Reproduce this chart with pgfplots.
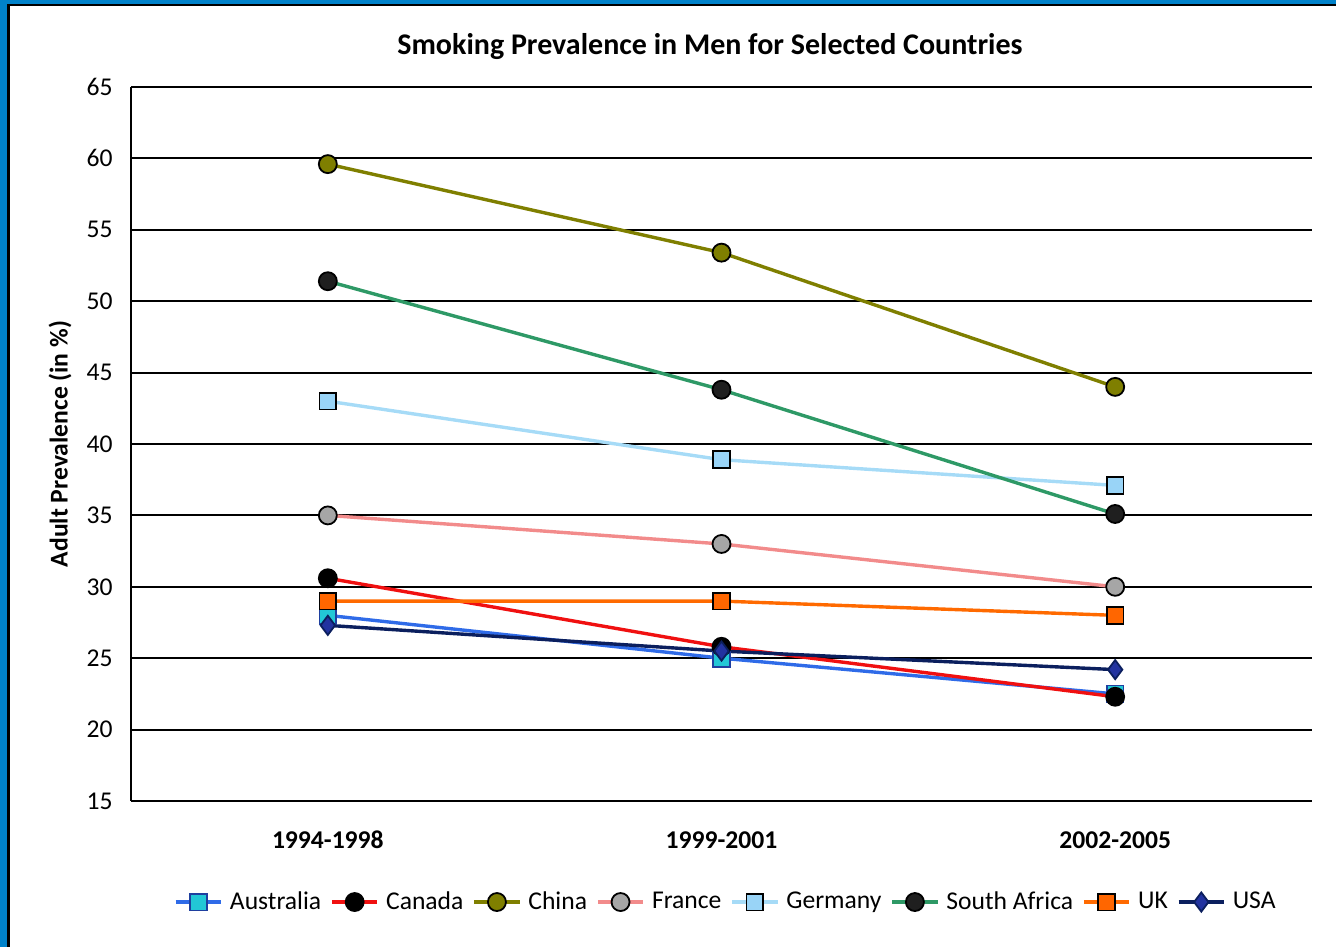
\documentclass[border=0pt]{standalone}
\usepackage{pgfplots}
\pgfplotsset{compat=1.18}
\usepackage{fontspec}
\setmainfont{Carlito}
\definecolor{frameblue}{HTML}{0082CA}
\definecolor{ausline}{HTML}{2F6BE8}
\definecolor{auscyan}{HTML}{22C7D6}
\definecolor{ausedge}{HTML}{1F3F9F}
\definecolor{canline}{HTML}{F01010}
\definecolor{china}{HTML}{7F7F00}
\definecolor{franceline}{HTML}{F28B8B}
\definecolor{francemark}{HTML}{A6A6A6}
\definecolor{gerline}{HTML}{A6DBF7}
\definecolor{germark}{HTML}{99D4F7}
\definecolor{saline}{HTML}{2E9966}
\definecolor{samark}{HTML}{1F1F1F}
\definecolor{ukline}{HTML}{FF6A00}
\definecolor{ukmark}{HTML}{FF6600}
\definecolor{usaline}{HTML}{0B1F5E}
\definecolor{usamark}{HTML}{2233A0}
\begin{document}
\begin{tikzpicture}
\path[use as bounding box] (0pt,0pt) rectangle (668pt,473.5pt);
\begin{axis}[
  at={(65.5pt,73pt)}, anchor=south west,
  scale only axis, width=590.5pt, height=357pt,
  xmin=-0.5, xmax=2.5, ymin=15, ymax=65,
  ytick={15,20,...,65},
  xtick={0,1,2},
  xticklabels={1994-1998,1999-2001,2002-2005},
  axis x line=bottom, axis y line=left,
  axis line style={-, black, line width=1pt},
  major tick length=0pt,
  ymajorgrids, major grid style={black, line width=1pt},
  /pgf/number format/assume math mode=true,
  tick label style={font=\fontsize{12.8}{15}\selectfont},
  yticklabel style={anchor=east, xshift=-5.7pt},
  xticklabel style={font=\fontsize{12.8}{15}\selectfont\bfseries, anchor=center, yshift=-19.5pt},
  ylabel={Adult Prevalence (in \%)},
  ylabel style={at={(axis description cs:-0.0601,0.5)}, anchor=center, rotate=0, font=\fontsize{12.8}{15}\selectfont\bfseries},
  legend columns=8,
  legend style={at={(axis description cs:0.5045,-0.1415)}, anchor=center, draw=none, fill=none,
     font=\fontsize{12.8}{15}\selectfont,
     /tikz/every even column/.append style={column sep=2.5pt},
     /tikz/every odd column/.append style={column sep=1.5pt},
     inner sep=0pt},
  legend image code/.code={\draw[mark repeat=2,mark phase=2] plot coordinates {(0cm,0cm) (0.4cm,0cm) (0.8cm,0cm)};},
  every axis plot/.append style={line width=1.7pt},
]
\addplot[ausline, mark=square*, mark size=4.2pt, mark options={fill=auscyan, draw=ausedge, line width=0.9pt}] coordinates {(0,28) (1,25) (2,22.5)};
\addlegendentry{Australia}
\addplot[canline, mark=*, mark size=4.5pt, mark options={fill=black, draw=black, line width=0.9pt}] coordinates {(0,30.6) (1,25.8) (2,22.3)};
\addlegendentry{Canada}
\addplot[china, mark=*, mark size=4.5pt, mark options={fill=china, draw=black, line width=0.9pt}] coordinates {(0,59.6) (1,53.4) (2,44)};
\addlegendentry{China}
\addplot[franceline, mark=*, mark size=4.5pt, mark options={fill=francemark, draw=black, line width=0.9pt}] coordinates {(0,35) (1,33) (2,30)};
\addlegendentry{France}
\addplot[gerline, mark=square*, mark size=4.2pt, mark options={fill=germark, draw=black, line width=0.9pt}] coordinates {(0,43) (1,38.9) (2,37.1)};
\addlegendentry{Germany}
\addplot[saline, mark=*, mark size=4.5pt, mark options={fill=samark, draw=black, line width=0.9pt}] coordinates {(0,51.4) (1,43.8) (2,35.1)};
\addlegendentry{South Africa}
\addplot[ukline, mark=square*, mark size=4.2pt, mark options={fill=ukmark, draw=black, line width=0.9pt}] coordinates {(0,29) (1,29) (2,28)};
\addlegendentry{UK}
\addplot[usaline, mark=diamond*, mark size=4.8pt, mark options={fill=usamark, draw=usaline, line width=0.9pt}] coordinates {(0,27.3) (1,25.5) (2,24.2)};
\addlegendentry{USA}
\end{axis}
\node[font=\fontsize{15}{18}\selectfont\bfseries] at (355pt,450pt) {Smoking Prevalence in Men for Selected Countries};
\fill[frameblue] (0pt,0pt) rectangle (3.65pt,473.5pt);
\fill[frameblue] (0pt,473.5pt) rectangle (668pt,471.5pt);
\fill[black] (3.65pt,0pt) rectangle (5pt,471.5pt);
\fill[black] (3.65pt,471.5pt) rectangle (668pt,470.5pt);
\end{tikzpicture}
\end{document}
